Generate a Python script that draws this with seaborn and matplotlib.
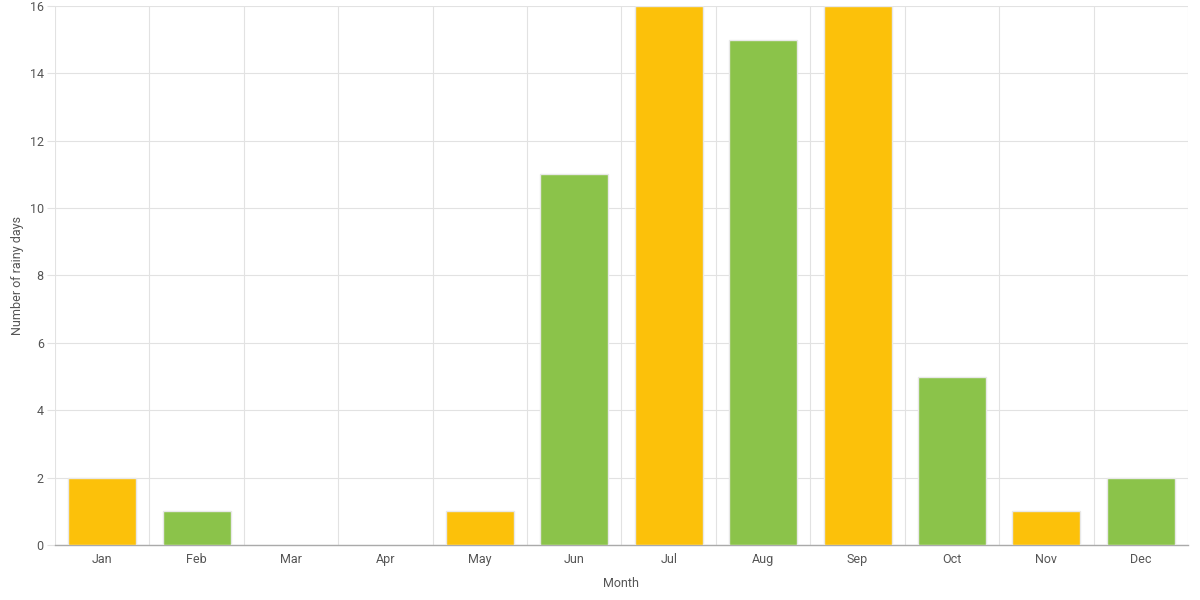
import numpy as np
import pandas as pd
import matplotlib
matplotlib.use("Agg")
import matplotlib.pyplot as plt
import seaborn as sns

months = ["Jan", "Feb", "Mar", "Apr", "May", "Jun", "Jul", "Aug", "Sep", "Oct", "Nov", "Dec"]
rainy_days = [2, 1, 0, 0, 1, 11, 16, 15, 16, 5, 1, 2]
bar_colors = ["#fcc10a", "#8bc34a"] * 6

sns.set_theme(style="white")
plt.rcParams["font.family"] = ["Roboto", "DejaVu Sans"]

df = pd.DataFrame({"Month": months, "Rainy": rainy_days})

fig = plt.figure(figsize=(12, 6), dpi=100)
ax = fig.add_axes([0.0458, 0.0917, 0.9442, 0.8983])

sns.barplot(data=df, x="Month", y="Rainy", hue="Month", palette=bar_colors,
            legend=False, width=0.72, edgecolor="#e8e8e8", linewidth=1,
            saturation=1, ax=ax, zorder=3)

# no outline on empty bars
for patch in ax.patches:
    if patch.get_height() == 0:
        patch.set_linewidth(0)

ax.set_ylim(0, 16)
ax.set_xlim(-0.5, len(months) - 0.5)
ax.set_yticks(np.arange(0, 17, 2))

# category boundaries as minor ticks / vertical grid
ax.set_xticks(np.arange(-0.5, len(months), 1), minor=True)
ax.grid(True, axis="y", color="#e2e2e2", linewidth=0.8, zorder=0)
ax.grid(True, axis="x", which="minor", color="#e2e2e2", linewidth=0.8, zorder=0)
ax.tick_params(axis="x", which="major", length=0, pad=6, labelsize=9, labelcolor="#555555")
ax.tick_params(axis="x", which="minor", length=10, width=0.8, color="#e2e2e2")
ax.tick_params(axis="y", length=6, width=0.8, color="#e2e2e2", labelsize=9,
               labelcolor="#555555", pad=2, left=True)

for side in ["left", "top", "right"]:
    ax.spines[side].set_visible(False)
ax.spines["bottom"].set_color("#aaaaaa")
ax.spines["bottom"].set_linewidth(1)

ax.set_xlabel("Month", fontsize=9, color="#555555", labelpad=8)
ax.set_ylabel("Number of rainy days", fontsize=9, color="#555555", labelpad=4)

fig.savefig("out.png", dpi=100)
